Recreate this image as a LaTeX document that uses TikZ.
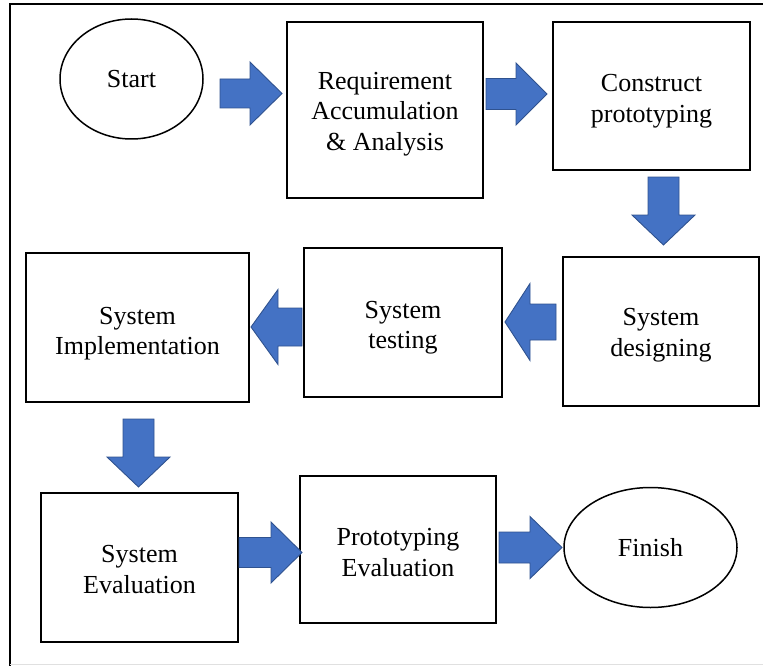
\documentclass[tikz,border=0pt]{standalone}
\usepackage{fontspec}
\setmainfont{Liberation Serif}
\usetikzlibrary{shapes.geometric}

\definecolor{arrowfill}{HTML}{4472C4}
\definecolor{arrowedge}{HTML}{2F528F}

\tikzset{
  stepbox/.style={draw=black, line width=1.7pt, fill=white, rectangle, inner sep=0pt},
  steptext/.style={align=center, inner sep=0pt, font=\fontsize{26}{30.5}\selectfont},
  termbox/.style={draw=black, line width=1.5pt, fill=white, ellipse,
    inner sep=0pt, font=\fontsize{26}{30.5}\selectfont},
  blockarrow/.style={fill=arrowfill, draw=arrowedge, line width=0.9pt, line join=miter},
  frameline/.style={draw=black, line width=2pt}
}

% block arrow: x, y (tail centre), angle, length, head length, shaft half-width, head half-width
\newcommand\flowarrow[7]{%
  \begin{scope}[shift={(#1,#2)}, rotate=#3]
    \draw[blockarrow] (0,-#6) -- (#4-#5,-#6) -- (#4-#5,-#7) -- (#4,0)
      -- (#4-#5,#7) -- (#4-#5,#6) -- (0,#6) -- cycle;
  \end{scope}}

\begin{document}
\begin{tikzpicture}[x=1pt, y=-1pt]
  \useasboundingbox (0,0) rectangle (763,666);

  % outer frame
  \draw[frameline] (763,4) -- (10,4) -- (10,666);
  \draw[black!12, line width=0.8pt] (10,664.5) -- (763,664.5);

  % process steps
  \node[termbox, minimum width=143pt, minimum height=120pt] (start) at (131.5,79) {Start};
  \node[stepbox, minimum width=196pt, minimum height=176pt,
    label={[steptext, yshift=-4pt]center:Requirement\\Accumulation\\\&\ Analysis}]
    (req) at (385,110) {};
  \node[stepbox, minimum width=197pt, minimum height=148pt,
    label={[steptext, yshift=-5pt]center:Construct\\prototyping}]
    (cons) at (651.5,96) {};
  \node[stepbox, minimum width=196pt, minimum height=149pt,
    label={[steptext, yshift=-3.5pt]center:System\\designing}]
    (design) at (661,331.5) {};
  \node[stepbox, minimum width=198pt, minimum height=149pt,
    label={[steptext, yshift=-5pt]center:System\\testing}]
    (test) at (403,322.5) {};
  \node[stepbox, minimum width=223pt, minimum height=149pt,
    label={[steptext, yshift=-6pt]center:System\\Implementation}]
    (impl) at (137.5,327.5) {};
  \node[stepbox, minimum width=197pt, minimum height=149pt,
    label={[steptext, yshift=-2pt]center:System\\Evaluation}]
    (eval) at (139.5,567.5) {};
  \node[stepbox, minimum width=196pt, minimum height=147pt,
    label={[steptext, yshift=-3pt]center:Prototyping\\Evaluation}]
    (proto) at (398,549.5) {};
  \node[termbox, minimum width=173pt, minimum height=120pt] (finish) at (650.5,547.5) {Finish};

  % block arrows between the steps
  \flowarrow{220}{93.5}{0}{62}{32}{14.5}{31.5}     % start -> req
  \flowarrow{486}{94}{0}{61}{31}{15.5}{31}         % req -> cons
  \flowarrow{663.5}{177}{-90}{68}{30}{15.5}{31.5}  % cons -> design
  \flowarrow{556}{322}{180}{51}{25}{18}{38.5}      % design -> test
  \flowarrow{302}{327}{180}{51}{27}{19}{37.5}      % test -> impl
  \flowarrow{138.5}{419}{-90}{68}{30}{15.5}{31.5}  % impl -> eval
  \flowarrow{239}{552.5}{0}{63}{31}{15}{30.5}      % eval -> proto
  \flowarrow{499}{547.5}{0}{63}{32}{15.5}{31}      % proto -> finish
\end{tikzpicture}
\end{document}
